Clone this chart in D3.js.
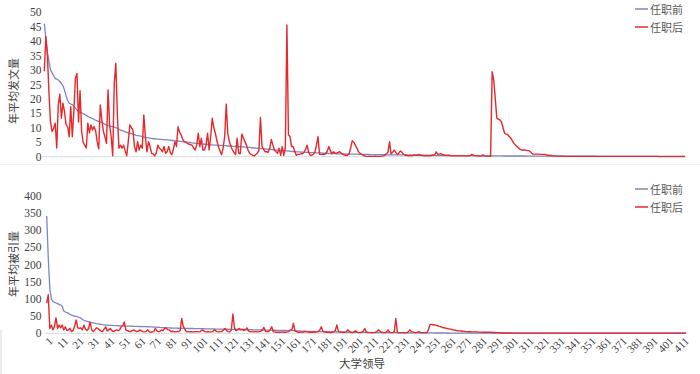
<!DOCTYPE html>
<html><head><meta charset="utf-8">
<script src="https://cdn.jsdelivr.net/npm/d3@7"></script>
<style>
html,body{margin:0;padding:0;background:#fff;}
svg{display:block;}
</style></head>
<body>
<svg id="chart" width="700" height="374"></svg>
<script>
const seriesNames = ["任职前", "任职后"];
const xTitle = "大学领导";
const topYTitle = "年平均发文量";
const botYTitle = "年平均被引量";
const topYTicks = [0,5,10,15,20,25,30,35,40,45,50];
const botYTicks = [0,50,100,150,200,250,300,350,400];
const xTickLabels = [1,11,21,31,41,51,61,71,81,91,101,111,121,131,141,151,161,171,181,191,201,211,221,231,241,251,261,271,281,291,301,311,321,331,341,351,361,371,381,391,401,411];

const topBefore = [
46,41,36,33,30,29,28,27,26.8,26.5,
26,25.3,24.5,23,21,19.5,18.5,18.2,18,17.5,
16.8,16.2,15.6,15.4,15.2,14.9,14.6,14.3,14,13.6,
13.4,13.2,12.9,12.6,12.4,12.2,12,11.8,11.5,11.2,
11,10.8,10.6,10.5,10.4,10.2,10,9.8,9.5,9.2,
9,8.8,8.6,8.4,8.2,8.1,8,7.8,7.6,7.4,
7.3,7.2,7.1,7,6.8,6.7,6.6,6.5,6.4,6.3,
6.2,6.2,6.1,6.1,6,6,5.9,5.9,5.8,5.8,
5.7,5.7,5.6,5.6,5.5,5.5,5.4,5.3,5.3,5.2,
5.1,5.1,5,4.9,4.9,4.8,4.7,4.7,4.6,4.5,
4.5,4.4,4.4,4.3,4.3,4.2,4.2,4.1,4.1,4,
4,4,3.9,3.9,3.9,3.8,3.8,3.8,3.7,3.7,
3.7,3.6,3.6,3.6,3.5,3.5,3.5,3.4,3.4,3.3,
3.3,3.2,3.2,3.1,3.1,3,3,2.9,2.9,2.8,
2.8,2.7,2.7,2.6,2.6,2.5,2.5,2.4,2.4,2.3,
2.3,2.2,2.2,2.1,2.1,2,2,1.9,1.9,1.8,
1.8,1.8,1.7,1.7,1.7,1.6,1.6,1.6,1.5,1.5,
1.5,1.4,1.4,1.4,1.4,1.3,1.3,1.3,1.3,1.2,
1.2,1.2,1.2,1.1,1.1,1.1,1.1,1.1,1,1,
1,1,1,1,1,0.9,0.9,0.9,0.9,0.9,
0.9,0.9,0.8,0.8,0.8,0.8,0.8,0.8,0.8,0.8,
0.7,0.7,0.7,0.7,0.7,0.7,0.7,0.7,0.7,0.7,
0.6,0.6,0.6,0.6,0.6,0.6,0.6,0.6,0.6,0.6,
0.6,0.6,0.6,0.6,0.5,0.5,0.5,0.5,0.5,0.5,
0.5,0.5,0.5,0.5,0.5,0.5,0.5,0.5,0.5,0.5,
0.5,0.5,0.4,0.4,0.4,0.4,0.4,0.4,0.4,0.4,
0.4,0.4,0.4,0.4,0.4,0.4,0.4,0.4,0.4,0.4,
0.4,0.4,0.4,0.35,0.35,0.35,0.35,0.35,0.35,0.35,
0.3,0.3,0.3,0.3,0.3,0.3,0.3,0.3,0.3,0.3,
0.3,0.3,0.3,0.3,0.3,0.25,0.25,0.25,0.25,0.25,
0.25,0.25,0.25,0.25,0.25,0.25,0.25,0.25,0.25,0.25,
0.2,0.2,0.2,0.2,0.2,0.2,0.2,0.2,0.2,0.2,
0.2,0.2,0.2,0.2,0.2,0.2,0.2,0.2,0.2,0.2,
0.2,0.2,0.15,0.15,0.15,0.15,0.15,0.15,0.15,0.15,
0.15,0.15,0.15,0.15,0.15,0.15,0.15,0.15,0.15,0.15,
0.15,0.15,0.15,0.15,0.15,0.1,0.1,0.1,0.1,0.1,
0.1,0.1,0.1,0.1,0.1,0.1,0.1,0.1,0.1,0.1,
0.1,0.1,0.1,0.1,0.1,0.1,0.1,0.1,0.1,0.1,
0.1,0.1,0.1,0.1,0.1,0.1,0.1,0.1,0.1,0.1,
0.1,0.1,0.1,0.1,0.1,0.05,0.05,0.05,0.05,0.05,
0.05,0.05,0.05,0.05,0.05,0.05,0.05,0.05,0.05,0.05,
0.05,0.05,0.05];

const topAfter = [
29.5,41.5,35,22,12,8.7,9.8,11.6,3,18,
21.6,13.3,18.5,15.6,11,10.4,6.9,17.3,6.9,15.6,
27.1,28.8,12,22.8,8.7,5,4,3,11.6,8.2,
11,9.2,10.4,9,5.2,2.7,17.9,12.7,8.7,6.9,
4.6,23.1,11,6.9,0.3,25.4,32.3,14.4,2.9,4,
2.9,4,2,0.3,5.2,11,10,9.2,3.5,1.7,
5.2,2.3,4,2.9,14.4,6.9,1.7,5.2,3.5,1.2,
1,0.3,1.2,4,2.9,2.5,1.7,3.5,1.2,1.7,
3.5,1.5,0.7,2.5,5.2,3.5,10.4,8.5,7.5,6,
5.2,5,4.6,4.3,4.2,4,3,2.3,4,8.1,
3.5,6.4,2.3,2.3,4,8.1,2.3,7,13.3,10,
8.1,5.5,3.5,2,0.7,3,7,18.1,8,5.2,
3.5,2.3,1.5,0.7,6.4,1.2,1,7.8,6.5,5.2,
4,2.3,1.2,0.8,0.5,0.2,0.8,1.2,2,13.6,
3.5,2.6,1.7,1.7,1.5,3,6,4,2.3,1.7,
1.2,2.9,0.5,3.5,0.5,3,45.5,7.5,7,3.5,
3.5,2,0.5,0.8,0.8,1,1,1.5,2.5,4,
1.5,0.5,0.5,0.8,1.5,4,6.9,0.8,0.8,0.8,
0.8,1,2,3.5,2,1,1.7,1.2,1.2,1.5,
1.7,1.2,0.8,0.5,0.5,0.5,1,3,5.5,5,
4,3,1.7,1.2,0.8,0.5,0.3,0.1,0.1,0.2,
0.1,0.1,0.1,0.2,0.1,0.1,0.1,0.2,0.3,0.5,
1,1.5,5.2,1,1.5,2.3,1.5,0.8,1.2,2,
1.5,0.8,0.5,0.5,0.3,0.5,0.3,0.5,0.5,0.5,
0.6,0.8,0.5,0.4,0.3,0.3,0.3,0.3,0.3,0.4,
0.5,0.6,1.7,0.8,0.9,1,0.8,0.6,0.5,0.5,
0.5,0.4,0.3,0.3,0.3,0.3,0.3,0.3,0.3,0.3,
0.3,0.3,0.3,0.3,0.4,0.8,0.5,0.3,0.3,0.3,
0.2,0.3,0.6,0.3,0.2,0.2,0.2,0.1,29.4,26.5,
20,13.3,13,12.7,12,10,8.1,7.8,7.6,7,
6.4,5.5,4.6,4,3.5,3,2.5,2.3,2.3,2.3,
2.2,2.1,2,1.5,0.9,0.9,0.9,0.9,0.9,0.8,
0.8,0.8,0.8,0.6,0.5,0.4,0.4,0.3,0.3,0.3,
0.2,0.2,0.2,0.2,0.2,0.1,0.1,0.1,0.1,0.1,
0.1,0.1,0.1,0.1,0.1,0.1,0.1,0.1,0.1,0.1,
0.1,0.1,0.1,0.1,0.1,0.1,0.1,0.1,0.1,0.1,
0.1,0.1,0.1,0.1,0.1,0.1,0.1,0.1,0.1,0.1,
0.1,0.1,0.1,0.1,0.1,0.1,0.1,0.1,0.1,0.1,
0.1,0.1,0.1,0.1,0.1,0.1,0.1,0.1,0.1,0.1,
0.1,0.1,0.1,0.1,0.1,0.1,0.1,0.1,0.1,0.1,
0.1,0.1,0.1,0.1,0.1,0.1,0.1,0.1,0.1,0.1,
0.1,0.1,0.1];

const botBefore = [
341,220,130,100,93,90,88,86,84,82,
78,65,62,60,58,55,53,51,50,49,
48,46,44,41,38,36,35,34,32,31,
30,29,28,27.5,27,26,25,24.5,24,23.5,
23,23,22.8,22.6,22.4,22.2,22,21.8,21.6,21.4,
21.2,21,21,20.8,20.6,20.5,20.4,20.2,20,20,
19.8,19.6,19.5,19.4,19.2,19,18.8,18.6,18.4,18.2,
18,17.7,17.4,17,16.7,16.4,16.2,16,15.8,15.6,
15.4,15.2,15,14.9,14.8,14.7,14.6,14.5,14.4,14.3,
14.2,14.1,14,14,13.9,13.8,13.7,13.6,13.5,13.4,
13.3,13.2,13.1,13,12.9,12.8,12.7,12.6,12.5,12.4,
12.3,12.2,12.1,12,12,12,11.9,11.8,11.7,11.6,
11.5,11.4,11.3,11.2,11.1,11,10.9,10.8,10.7,10.6,
10.5,10.4,10.3,10.2,10.1,10,9.9,9.8,9.7,9.6,
9.5,9.4,9.3,9.2,9.1,9,8.9,8.8,8.7,8.6,
8.5,8.4,8.3,8.2,8.1,8,7.9,7.8,7.7,7.6,
7.4,7.2,7,6.8,6.6,6.4,6.2,6,5.8,5.6,
5.5,5.4,5.3,5.2,5.1,5,4.9,4.8,4.7,4.6,
4.5,4.4,4.3,4.2,4.1,4,3.9,3.8,3.7,3.6,
3.5,3.4,3.3,3.2,3.1,3,3,2.9,2.9,2.8,
2.8,2.7,2.7,2.6,2.6,2.5,2.5,2.4,2.4,2.3,
2.3,2.2,2.2,2.1,2.1,2,2,2,1.9,1.9,
1.9,1.8,1.8,1.8,1.7,1.7,1.7,1.6,1.6,1.6,
1.5,1.5,1.5,1.4,1.4,1.4,1.3,1.3,1.3,1.2,
1.2,1.2,1.1,1.1,1.1,1,1,1,1,1,
0.9,0.9,0.9,0.9,0.9,0.9,0.9,0.9,0.9,0.9,
0.8,0.8,0.8,0.8,0.8,0.8,0.8,0.8,0.8,0.8,
0.7,0.7,0.7,0.7,0.7,0.7,0.7,0.7,0.7,0.7,
0.6,0.6,0.6,0.6,0.6,0.6,0.6,0.6,0.6,0.6,
0.5,0.5,0.5,0.5,0.5,0.5,0.5,0.5,0.5,0.5,
0.4,0.4,0.4,0.4,0.4,0.4,0.4,0.4,0.4,0.4,
0.3,0.3,0.3,0.3,0.3,0.3,0.3,0.3,0.3,0.3,
0.3,0.3,0.3,0.3,0.3,0.3,0.3,0.3,0.3,0.3,
0.2,0.2,0.2,0.2,0.2,0.2,0.2,0.2,0.2,0.2,
0.2,0.2,0.2,0.2,0.2,0.2,0.2,0.2,0.2,0.2,
0.2,0.2,0.2,0.2,0.2,0.2,0.2,0.2,0.2,0.2,
0.1,0.1,0.1,0.1,0.1,0.1,0.1,0.1,0.1,0.1,
0.1,0.1,0.1,0.1,0.1,0.1,0.1,0.1,0.1,0.1,
0.1,0.1,0.1,0.1,0.1,0.1,0.1,0.1,0.1,0.1,
0.1,0.1,0.1,0.1,0.1,0.1,0.1,0.1,0.1,0.1,
0.1,0.1,0.1,0.1,0.1,0.1,0.1,0.1,0.1,0.1,
0.1,0.1,0.1];

const botAfter = [
88,112,14,24,10,20,45,14,24,16,
24,10,19,8,10,14,5,8,20,39,
16,14,16,10,24,12,8,14,33,10,
5,10,16,14,10,6,5,12,19,7,
10,14,8,5,8,10,8,10,19,22,
33,10,8,6,5,8,10,7,5,6,
10,7,5,4,5,10,5,3,4,5,
14,7,5,6,10,8,14,16,10,10,
5,6,5,4,5,5,8,43,20,12,
5,5,4,5,4,4,5,5,4,5,
10,8,5,4,5,4,4,5,10,7,
5,4,5,6,10,14,8,5,4,10,
56,16,8,10,14,10,12,8,10,16,
7,5,5,4,5,5,4,5,6,10,
17,6,5,5,10,19,5,4,3,3,
3,3,4,3,3,4,5,10,10,29,
7,5,3,3,4,3,4,5,4,3,
3,3,4,3,4,5,10,19,5,4,
3,3,3,2,3,4,8,24,5,4,
3,3,3,4,10,6,3,2,4,7,
3,2,2,3,6,14,4,2,2,2,
2,2,3,6,10,5,3,2,2,4,
10,3,2,2,5,43,2,2,2,2,
2,2,2,4,10,5,4,2,2,3,
5,2,2,2,2,2,10,26,26,25,
24,23,22,20,19,17,16,15,14,13,
12,11,10,9,8,7.5,7,6.5,6,5.5,
5,5,4.5,4.5,4,4,4,4,3.5,3.5,
3.5,3,3,3,3,3,3,2.5,2.5,2.5,
2,2,1.5,1,1,1,1,1,1,1,
0.5,0.5,0.5,0.5,0.5,0.5,0.5,0.5,0.5,0.5,
0.5,0.5,0.5,0.5,0.5,0.5,0.5,0.5,0.5,0.5,
0.5,0.5,0.5,0.5,0.5,0.5,0.5,0.5,0.5,0.5,
0.5,0.5,0.5,0.5,0.5,0.5,0.5,0.5,0.5,0.5,
0.5,0.5,0.5,0.5,0.5,0.5,0.5,0.5,0.5,0.5,
0.5,0.5,0.5,0.5,0.5,0.5,0.5,0.5,0.5,0.5,
0.5,0.5,0.5,0.5,0.5,0.5,0.5,0.5,0.5,0.5,
0.5,0.5,0.5,0.5,0.5,0.5,0.5,0.5,0.5,0.5,
0.5,0.5,0.5,0.5,0.5,0.5,0.5,0.5,0.5,0.5,
0.5,0.5,0.5,0.5,0.5,0.5,0.5,0.5,0.5,0.5,
0.5,0.5,0.5,0.5,0.5,0.5,0.5,0.5,0.5,0.5,
0.5,0.5,0.5];

const colors = ["#7c86c0", "#e8272b"];
const numFont = "'Liberation Serif','Times New Roman',serif";
const cjkFont = "'Noto Sans CJK SC','Noto Sans',sans-serif";

const svg = d3.select("#chart");
const N = topBefore.length;

function panel(cfg) {
  const x = d3.scaleLinear().domain([1, N]).range([cfg.x0, cfg.x1]);
  const y = d3.scaleLinear().domain([0, cfg.yTicks[cfg.yTicks.length-1]]).range([cfg.yb, cfg.yt]);
  const g = svg.append("g");

  // axis baseline
  g.append("line").attr("x1", cfg.x0 - 2).attr("x2", cfg.x1 + 1)
    .attr("y1", y(0)).attr("y2", y(0))
    .attr("stroke", "#d9d9d9").attr("stroke-width", 1);

  // y axis
  const ya = g.append("g").attr("transform", `translate(${cfg.labelX},0)`)
    .call(d3.axisLeft(y).tickValues(cfg.yTicks).tickSize(0).tickPadding(0));
  ya.select(".domain").remove();
  ya.selectAll("text").attr("font-family", numFont).attr("font-size", 11.5).attr("fill", "#404040");

  // y title
  g.append("text").attr("transform", `translate(${cfg.titleX},${cfg.titleY}) rotate(-90)`)
    .attr("text-anchor", "middle").attr("dominant-baseline", "central")
    .attr("font-family", cjkFont).attr("font-size", 11).attr("fill", "#404040")
    .text(cfg.title);

  const line = d3.line().x((d, i) => x(i + 1)).y(d => y(d));
  [cfg.before, cfg.after].forEach((s, k) => {
    g.append("path").datum(s).attr("d", line)
      .attr("fill", "none").attr("stroke", colors[k])
      .attr("stroke-width", k === 1 ? 1.4 : 1.3).attr("stroke-linejoin", "round");
  });

  // legend
  seriesNames.forEach((name, k) => {
    const ly = cfg.legY + k * 18;
    g.append("line").attr("x1", 635).attr("x2", 648).attr("y1", ly).attr("y2", ly)
      .attr("stroke", colors[k]).attr("stroke-width", 1.5);
    g.append("text").attr("x", 650).attr("y", ly).attr("dominant-baseline", "central")
      .attr("font-family", cjkFont).attr("font-size", 11).attr("fill", "#595959").text(name);
  });
  return { x, y, g };
}

panel({ x0: 44.3, x1: 685, yb: 156.7, yt: 12, yTicks: topYTicks, labelX: 41.5,
  titleX: 13, titleY: 91, title: topYTitle, before: topBefore, after: topAfter, legY: 9 });

// faint divider under top chart
svg.append("line").attr("x1", 0).attr("x2", 700).attr("y1", 164.5).attr("y2", 164.5)
  .attr("stroke", "#f2f2f2").attr("stroke-width", 1);

const bot = panel({ x0: 46.7, x1: 686, yb: 333.3, yt: 195.7, yTicks: botYTicks, labelX: 41.5,
  titleX: 13, titleY: 264, title: botYTitle, before: botBefore, after: botAfter, legY: 189 });

// x tick labels (rotated)
const xt = bot.g.append("g");
xTickLabels.forEach(v => {
  const tx = bot.x(v) + 4, ty = 339;
  xt.append("text").attr("transform", `translate(${tx},${ty}) rotate(-45)`)
    .attr("text-anchor", "end").attr("dominant-baseline", "central")
    .attr("font-family", numFont).attr("font-size", 11).attr("fill", "#404040").text(v);
});

// x title
svg.append("text").attr("x", 362).attr("y", 363).attr("text-anchor", "middle")
  .attr("dominant-baseline", "central").attr("font-family", cjkFont).attr("font-size", 11.5)
  .attr("fill", "#404040").text(xTitle);

// faint left border fragment
svg.append("line").attr("x1", 1).attr("x2", 1).attr("y1", 330).attr("y2", 374)
  .attr("stroke", "#e6e6e6").attr("stroke-width", 1.5);
</script>
</body></html>
